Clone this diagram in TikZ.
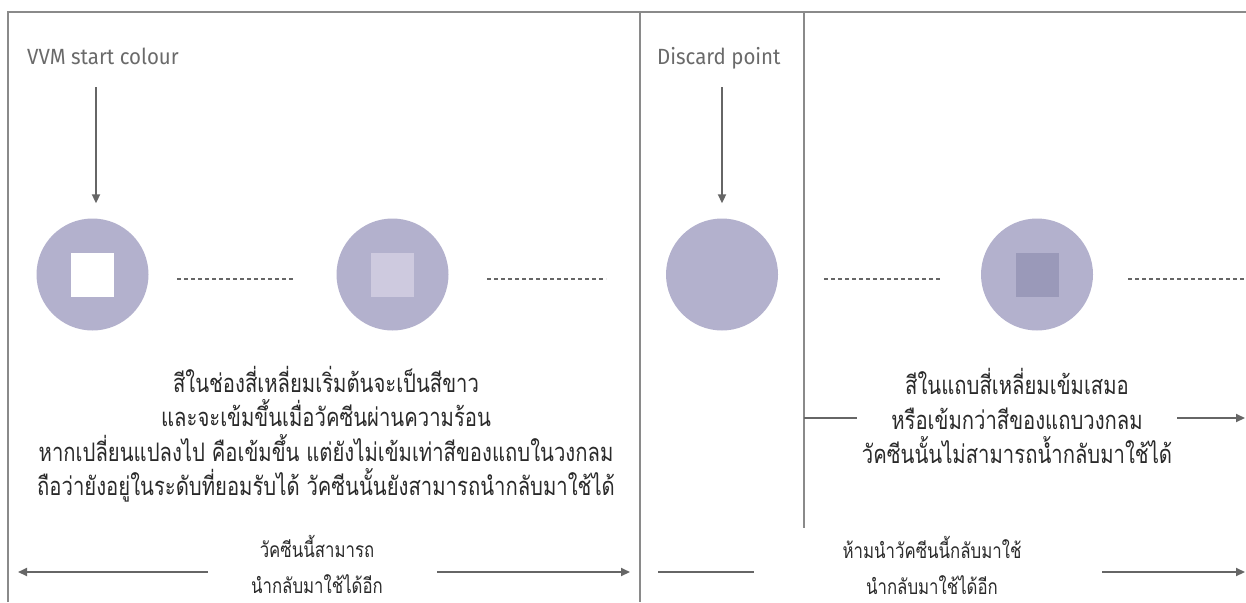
\documentclass[tikz,border=0pt]{standalone}
\usepackage{fontspec}
\newfontfamily\thai[Script=Thai,FakeStretch=0.795]{Loma}
\newfontfamily\thaism[Script=Thai,FakeStretch=0.8]{Loma}
\newfontfamily\cond[FakeStretch=0.93]{Fira Sans}
\usetikzlibrary{arrows.meta}
\definecolor{lav}{HTML}{B3B1CD}
\definecolor{sqlight}{HTML}{CECADF}
\definecolor{sqdark}{HTML}{9A99B9}
\definecolor{framec}{HTML}{8A8A8A}
\definecolor{linec}{HTML}{666666}
\definecolor{labc}{HTML}{6A6A6A}
\definecolor{thaic}{HTML}{2A2A2A}
\tikzset{
  framel/.style={draw=framec,line width=1.6pt},
  disc/.style={circle,fill=lav,minimum size=112pt,inner sep=0pt},
  sq/.style={rectangle,minimum width=43pt,minimum height=44pt,inner sep=0pt},
  dots/.style={draw=linec,line width=2pt,dash pattern=on 4pt off 3pt},
  conn/.style={draw=linec,line width=2pt},
  arr/.style={conn,-{Triangle[length=9pt,width=8pt]}},
  lab/.style={font=\cond\fontsize{22}{24}\selectfont,text=labc,inner sep=0pt},
  thaitxt/.style={font=\thai\fontsize{25.5}{34.5}\selectfont,text=thaic,align=center,inner sep=0pt},
  thaismall/.style={font=\thaism\fontsize{21}{36}\selectfont,text=thaic,align=center,inner sep=0pt}
}
\begin{document}
\begin{tikzpicture}[x=1pt,y=-1pt]
\useasboundingbox (0,0) rectangle (1246,602);
% frame
\draw[framel] (8,602) -- (8,12) -- (1246,12);
\draw[framel] (640,12) -- (640,602);
\draw[framel] (804,12) -- (804,528);
% labels
\node[lab,anchor=base west] (vvm) at (27,64) {VVM start colour};
\node[lab,anchor=base west] (disc) at (657,64) {Discard point};
% circles
\node[disc] (c1) at (92.5,274.5) {};
\node[disc] (c2) at (392.5,274.5) {};
\node[disc] (c3) at (722,274.5) {};
\node[disc] (c4) at (1037,274.5) {};
\node[sq,fill=white] (s1) at (c1) {};
\node[sq,fill=sqlight] (s2) at (c2) {};
\node[sq,fill=sqdark] (s4) at (c4) {};
% arrows down
\coordinate (a1) at (96,87);
\coordinate (a3) at (722,87);
\draw[arr,shorten >=15pt] (a1) -- (a1 |- c1.north);
\draw[arr,shorten >=15pt] (a3) -- (c3.north);
% dotted lines
\draw[dots] (177,279) -- (295,279);
\draw[dots] (487,279) -- (606,279);
\draw[dots] (824,279) -- (942,279);
\draw[dots] (1128,279) -- (1246,279);
% texts
\node[thaitxt] (t1) at (326,434) {สีในช่องสี่เหลี่ยมเริ่มต้นจะเป็นสีขาว\\และจะเข้มขึ้นเมื่อวัคซีนผ่านความร้อน\\หากเปลี่ยนแปลงไป คือเข้มขึ้น แต่ยังไม่เข้มเท่าสีของแถบในวงกลม\\ถือว่ายังอยู่ในระดับที่ยอมรับได้ วัคซีนนั้นยังสามารถนำกลับมาใช้ได้};
\node[thaitxt] (t2) at (1017,416) {สีในแถบสี่เหลี่ยมเข้มเสมอ\\หรือเข้มกว่าสีของแถบวงกลม\\วัคซีนนั้นไม่สามารถน้ำกลับมาใช้ได้};
\node[thaismall] (b1) at (317,564) {วัคซีนนี้สามารถ\\นำกลับมาใช้ได้อีก};
\node[thaismall] (b2) at (932,565) {ห้ามนำวัคซีนนี้กลับมาใช้\\นำกลับมาใช้ได้อีก};
% bottom/side arrows
\coordinate (l1s) at (208,572); \coordinate (l1e) at (18,572);
\coordinate (l2s) at (437,572); \coordinate (l2e) at (630,572);
\coordinate (r1s) at (658,572); \coordinate (r1e) at (754,572);
\coordinate (r2s) at (1102,572); \coordinate (r2e) at (1245,572);
\coordinate (h1s) at (804,418); \coordinate (h1e) at (857,418);
\coordinate (h2s) at (1177,418); \coordinate (h2e) at (1245,418);
\draw[arr] (l1s) -- (l1e);
\draw[arr] (l2s) -- (l2e);
\draw[conn] (r1s) -- (r1e);
\draw[arr] (r2s) -- (r2e);
\draw[conn] (h1s) -- (h1e);
\draw[arr] (h2s) -- (h2e);
\end{tikzpicture}
\end{document}
